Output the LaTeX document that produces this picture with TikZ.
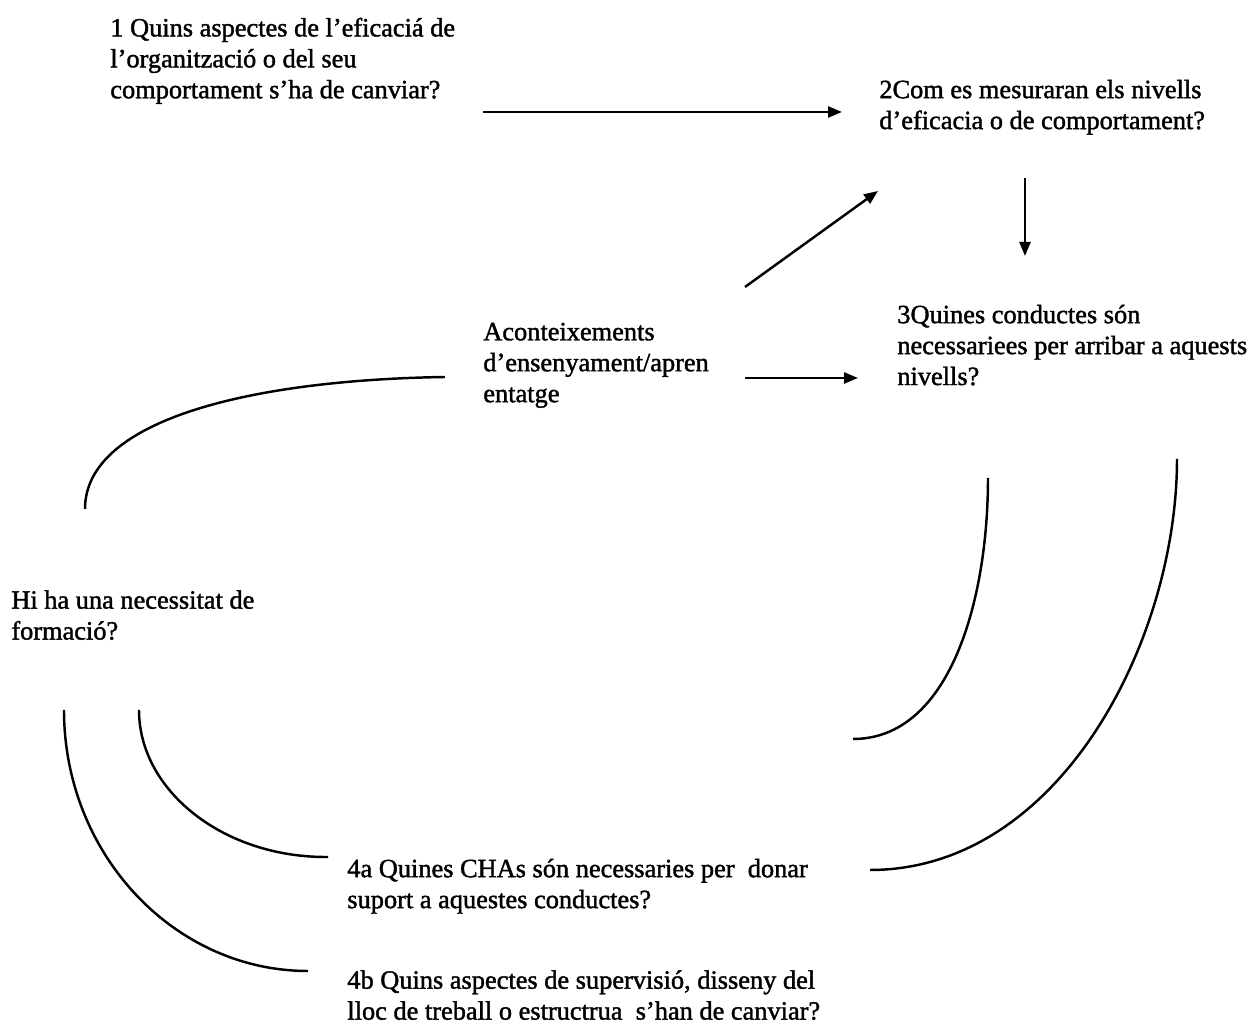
\documentclass[tikz,border=0pt]{standalone}
\usepackage{fontspec}
\setmainfont[FakeBold=1.5,AutoFakeBold=1.5]{Liberation Serif}
\usetikzlibrary{arrows.meta}

\begin{document}
\begin{tikzpicture}[
    question/.style={anchor=north west, align=left, inner sep=0pt,
      font=\fontsize{15}{17.6}\selectfont, execute at begin node=\strut},
    link/.style={line width=1.4pt},
    >={Triangle[length=2.8mm,width=2.2mm]}
  ]
            \useasboundingbox (0,0) rectangle (25.16,20.70);

            % The questions
            \node[question] (q1) at (2.20,20.35) {1 Quins aspectes de l’eficaciá de\\l’organització o del seu\\comportament s’ha de canviar?};
            \node[question] (q2) at (17.58,19.11) {2Com es mesuraran els nivells\\d’eficacia o de comportament?};
            \node[question] (ev) at (9.66,14.25) {Aconteixements\\d’ensenyament/apren\\entatge};
            \node[question] (q3) at (17.94,14.61) {3Quines conductes són\\necessariees per arribar a aquests\\nivells?};
            \node[question] (need) at (0.22,8.90) {Hi ha una necessitat de\\formació?};
            \node[question] (q4a) at (6.94,3.53) {4a Quines CHAs són necessaries per\ \ donar\\suport a aquestes conductes?};
            \node[question] (q4b) at (6.94,1.30) {4b Quins aspectes de supervisió, disseny del\\lloc de treball o estructrua\ \ s’han de canviar?};

            % Ends of the arrows
            \coordinate (q1out) at (9.66,18.46);
            \coordinate (q2in) at (16.84,18.46);
            \coordinate (evup) at (14.90,14.96);
            \coordinate (q2low) at (17.56,16.88);
            \coordinate (q2out) at (20.50,17.14);
            \coordinate (q3in) at (20.50,15.58);
            \coordinate (evout) at (14.90,13.14);
            \coordinate (q3left) at (17.16,13.14);

            % Straight arrows
            \draw[link,->] (q1out) -- (q2in);
            \draw[link,->] (evup) -- (q2low);
            \draw[link,->] (q2out) -- (q3in);
            \draw[link,->] (evout) -- (q3left);

            % Ends of the arcs
            \coordinate (evarc) at (8.90,13.16);
            \coordinate (needtop) at (1.70,10.52);
            \coordinate (q3arc) at (19.76,11.14);
            \coordinate (q3far) at (23.54,11.52);
            \coordinate (needin) at (2.78,6.50);
            \coordinate (needout) at (1.28,6.50);
            \coordinate (q4aleft) at (6.56,3.56);
            \coordinate (q4bleft) at (6.16,1.28);
            \coordinate (q3end) at (17.06,5.92);
            \coordinate (q4aright) at (17.40,3.30);

            % The arcs
            \draw[link] (evarc) .. controls (5.00,13.10) and (1.70,12.30) .. (needtop);
            \draw[link] (q3arc) .. controls (19.76,8.70) and (19.00,5.92) .. (q3end);
            \draw[link] (q3far) .. controls (23.54,7.90) and (21.20,3.30) .. (q4aright);
            \draw[link] (needin) .. controls (2.78,4.88) and (4.48,3.54) .. (q4aleft);
            \draw[link] (needout) .. controls (1.28,3.62) and (3.48,1.28) .. (q4bleft);

        \end{tikzpicture}
\end{document}
